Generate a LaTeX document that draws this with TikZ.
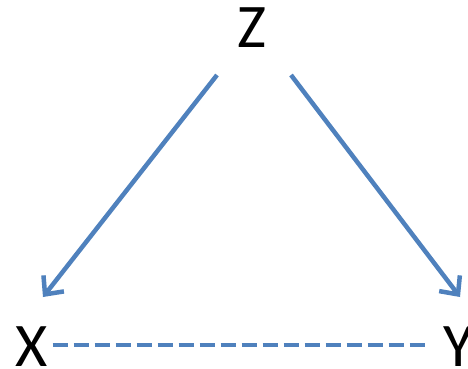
\documentclass[tikz,border=0pt]{standalone}
\usepackage{fontspec}
\setmainfont{Carlito}
\usetikzlibrary{arrows.meta}
\definecolor{linkblue}{HTML}{4F81BD}
\begin{document}
\begin{tikzpicture}[x=1pt,y=-1pt,
  var/.style={inner sep=0pt,font=\fontsize{62}{62}\selectfont},
  arr/.style={draw=linkblue,line width=4.5pt,-{Straight Barb[length=14pt,width=26pt,line width=4.5pt]}},
  dashline/.style={draw=linkblue,line width=4.5pt,dash pattern=on 15pt off 6pt}]
\useasboundingbox (0,0) rectangle (468,368);
\node[var,anchor=base west] (X) at (15,366) {X};
\node[var,anchor=base west] (Y) at (443,366) {Y};
\node[var,anchor=base] (Z) at (252,47) {Z};
\coordinate (zl) at (217,75);
\coordinate (zr) at (291,75);
\coordinate (xa) at (43,297);
\coordinate (ya) at (460,297);
\draw[arr] (zl) -- (xa);
\draw[arr] (zr) -- (ya);
\draw[dashline] ([xshift=5pt,yshift=1pt]X.east) -- ([xshift=-14pt,yshift=1pt]Y.west);
\end{tikzpicture}
\end{document}
